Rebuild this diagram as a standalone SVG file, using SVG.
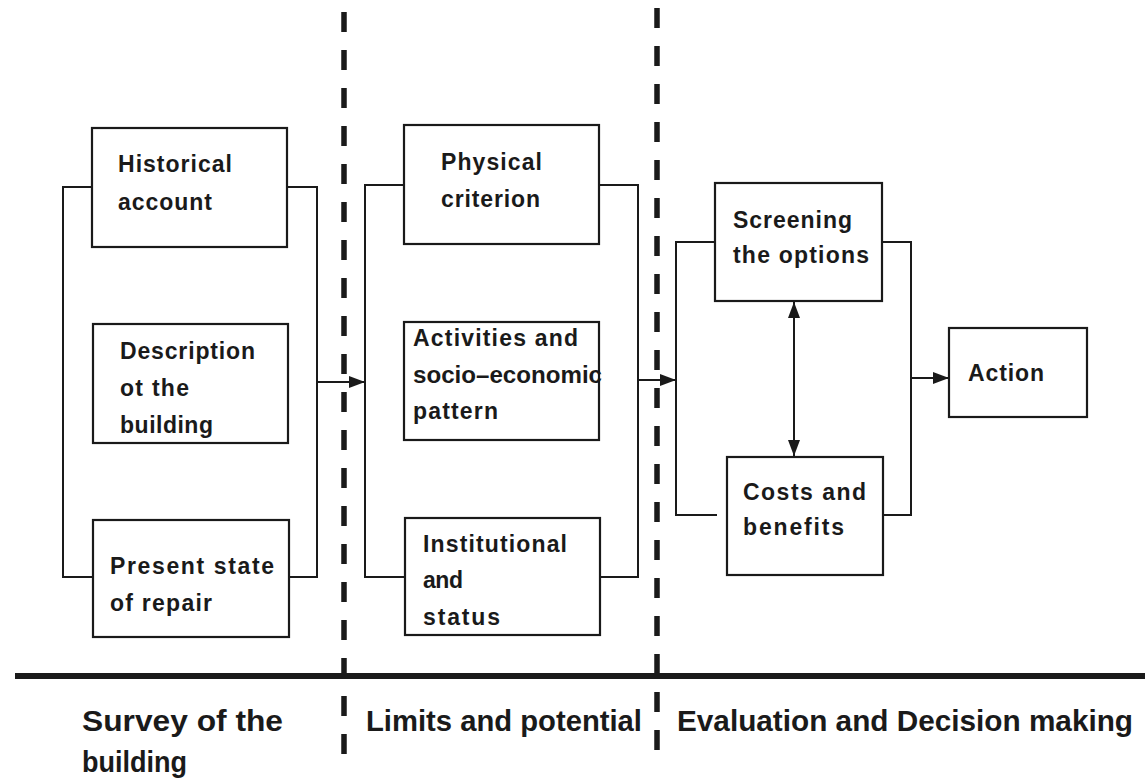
<svg xmlns="http://www.w3.org/2000/svg" width="1147" height="783" viewBox="0 0 1147 783">
  <style>
    .box { fill: #fff; stroke: #1a1a1a; stroke-width: 2.2; }
    .wire { fill: none; stroke: #1a1a1a; stroke-width: 2; }
    .divider { fill: none; stroke: #1a1a1a; stroke-width: 5.5; stroke-dasharray: 20 18; }
    .lbl { font-family: "Liberation Sans", Arial, sans-serif; font-size: 23px; font-weight: bold; fill: #1a1a1a; }
    .phase { font-family: "Liberation Sans", Arial, sans-serif; font-size: 30px; font-weight: bold; fill: #1a1a1a; }
  </style>
  <defs>
    <marker id="head" viewBox="0 0 16 12" refX="16" refY="6" markerWidth="16" markerHeight="12" markerUnits="userSpaceOnUse" orient="auto-start-reverse">
      <path d="M0,0 L16,6 L0,12 Z" fill="#1a1a1a"/>
    </marker>
  </defs>
  <rect width="1147" height="783" fill="#fff"/>

  <!-- phase dividers -->
  <g id="dividers">
    <line class="divider" x1="344" y1="12" x2="344" y2="770"/>
    <line class="divider" x1="657" y1="8" x2="657" y2="762"/>
    <line x1="15" y1="676" x2="1145" y2="676" stroke="#1a1a1a" stroke-width="6"/>
  </g>

  <!-- connectors -->
  <g id="connectors">
    <!-- survey bracket -->
    <polyline class="wire" points="92,187 63,187 63,577 93,577"/>
    <polyline class="wire" points="287,187 317,187 317,577 289,577"/>
    <line class="wire" x1="317" y1="382" x2="365" y2="382" marker-end="url(#head)"/>
    <!-- limits bracket -->
    <polyline class="wire" points="404,185 365,185 365,577 405,577"/>
    <polyline class="wire" points="599,185 638,185 638,577 600,577"/>
    <line class="wire" x1="638" y1="380" x2="676" y2="380" marker-end="url(#head)"/>
    <!-- evaluation bracket -->
    <polyline class="wire" points="715,242 676,242 676,515 717,515"/>
    <polyline class="wire" points="882,242 911,242 911,515 883,515"/>
    <line class="wire" x1="794" y1="302" x2="794" y2="456" marker-start="url(#head)" marker-end="url(#head)"/>
    <line class="wire" x1="911" y1="378" x2="949" y2="378" marker-end="url(#head)"/>
  </g>

  <!-- survey column -->
  <g id="historical">
    <rect class="box" x="92" y="128" width="195" height="119"/>
    <text class="lbl" x="118" y="172" textLength="114" lengthAdjust="spacing">Historical</text>
    <text class="lbl" x="118" y="210" textLength="94" lengthAdjust="spacing">account</text>
  </g>
  <g id="description">
    <rect class="box" x="93" y="324" width="195" height="119"/>
    <text class="lbl" x="120" y="359" textLength="135" lengthAdjust="spacing">Description</text>
    <text class="lbl" x="120" y="396" textLength="69" lengthAdjust="spacing">ot the</text>
    <text class="lbl" x="120" y="433" textLength="93" lengthAdjust="spacing">building</text>
  </g>
  <g id="present-state">
    <rect class="box" x="93" y="520" width="196" height="117"/>
    <text class="lbl" x="110" y="574" textLength="164" lengthAdjust="spacing">Present state</text>
    <text class="lbl" x="110" y="611" textLength="102" lengthAdjust="spacing">of repair</text>
  </g>

  <!-- limits column -->
  <g id="physical">
    <rect class="box" x="404" y="125" width="195" height="119"/>
    <text class="lbl" x="441" y="170" textLength="101" lengthAdjust="spacing">Physical</text>
    <text class="lbl" x="441" y="207" textLength="99" lengthAdjust="spacing">criterion</text>
  </g>
  <g id="activities">
    <rect class="box" x="404" y="322" width="195" height="118"/>
    <text class="lbl" x="413" y="346" textLength="165" lengthAdjust="spacing">Activities and</text>
    <text class="lbl" x="413" y="383" textLength="189" lengthAdjust="spacingAndGlyphs">socio–economic</text>
    <text class="lbl" x="413" y="419" textLength="85" lengthAdjust="spacing">pattern</text>
  </g>
  <g id="institutional">
    <rect class="box" x="405" y="518" width="195" height="117"/>
    <text class="lbl" x="423" y="552" textLength="144" lengthAdjust="spacing">Institutional</text>
    <text class="lbl" x="423" y="588" textLength="40" lengthAdjust="spacing">and</text>
    <text class="lbl" x="423" y="625" textLength="77" lengthAdjust="spacing">status</text>
  </g>

  <!-- evaluation column -->
  <g id="screening">
    <rect class="box" x="715" y="183" width="167" height="118"/>
    <text class="lbl" x="733" y="228" textLength="119" lengthAdjust="spacing">Screening</text>
    <text class="lbl" x="733" y="263" textLength="136" lengthAdjust="spacing">the options</text>
  </g>
  <g id="costs">
    <rect class="box" x="727" y="457" width="156" height="118"/>
    <text class="lbl" x="743" y="500" textLength="123" lengthAdjust="spacing">Costs and</text>
    <text class="lbl" x="743" y="535" textLength="101" lengthAdjust="spacing">benefits</text>
  </g>
  <g id="action">
    <rect class="box" x="949" y="328" width="138" height="89"/>
    <text class="lbl" x="968" y="381" textLength="76" lengthAdjust="spacing">Action</text>
  </g>

  <!-- phase captions -->
  <g id="captions">
    <text class="phase" x="82" y="731" textLength="201" lengthAdjust="spacingAndGlyphs">Survey of the</text>
    <text class="phase" x="82" y="772" textLength="105" lengthAdjust="spacingAndGlyphs">building</text>
    <text class="phase" x="366" y="731" textLength="276" lengthAdjust="spacingAndGlyphs">Limits and potential</text>
    <text class="phase" x="677" y="731" textLength="456" lengthAdjust="spacingAndGlyphs">Evaluation and Decision making</text>
  </g>
</svg>
